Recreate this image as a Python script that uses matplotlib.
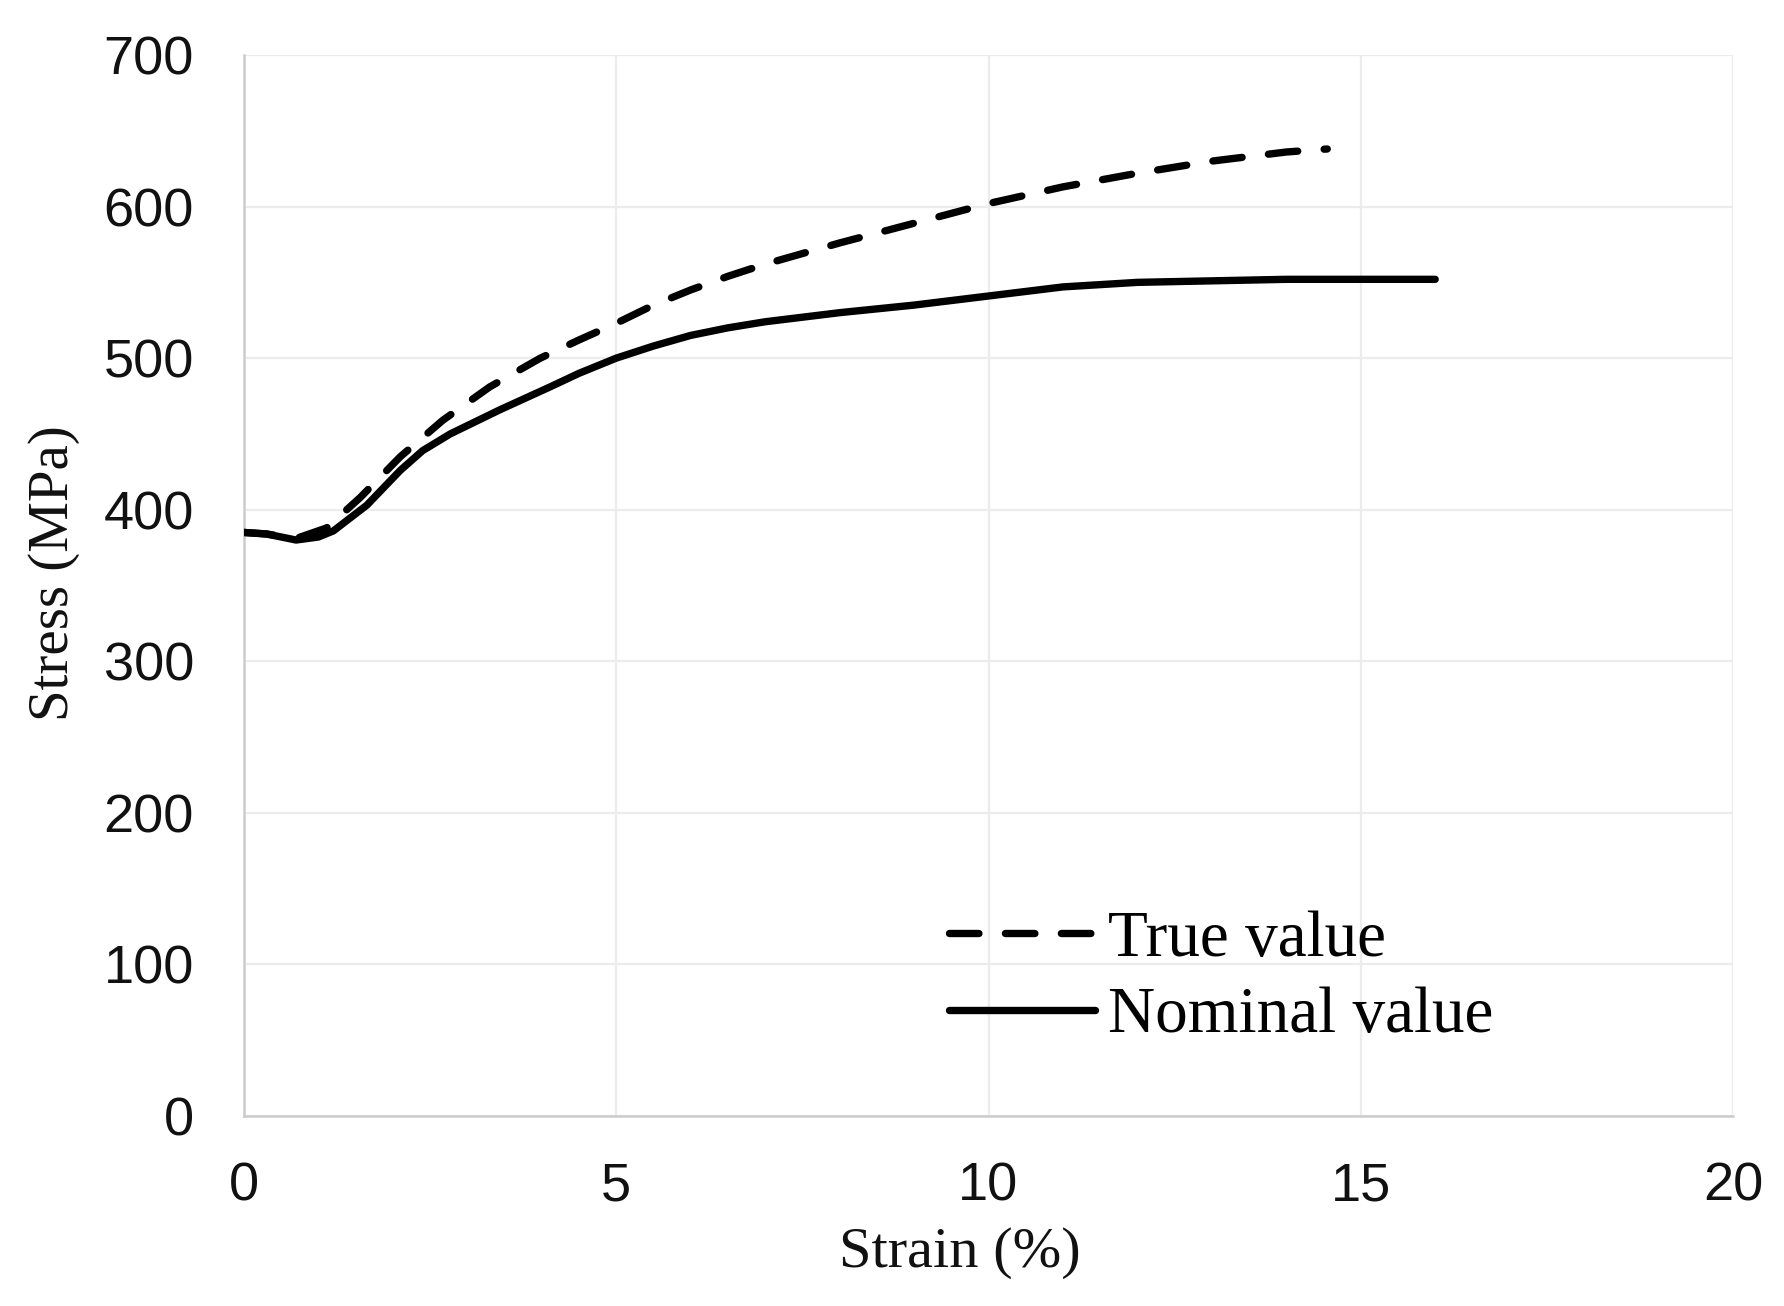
import matplotlib
matplotlib.use("Agg")
import matplotlib.pyplot as plt

# Data
strain_true = [0.0, 0.3, 0.7, 1.11, 1.56, 2.1, 2.67, 3.3, 3.98, 4.5, 5.0, 5.5, 6.0, 6.5, 7.0, 7.5, 8.0, 9.0, 10.0, 11.0, 12.0, 13.0, 14.0, 14.55]
stress_true = [385, 384, 381, 388, 408, 435, 459, 481, 500, 512, 523, 535, 545, 554, 562, 569, 576, 589, 602, 613, 622, 630, 636, 638]

strain_nom = [0.0, 0.3, 0.7, 1.0, 1.2, 1.65, 2.1, 2.4, 2.77, 3.44, 4.11, 4.5, 5.0, 5.5, 6.0, 6.5, 7.0, 8.0, 9.0, 10.0, 11.0, 12.0, 13.0, 14.0, 15.0, 16.0]
stress_nom = [385, 384, 380, 382, 386, 403, 426, 439, 450, 466, 481, 490, 500, 508, 515, 520, 524, 530, 535, 541, 547, 550, 551, 552, 552, 552]

x_ticks = [0, 5, 10, 15, 20]
y_ticks = [0, 100, 200, 300, 400, 500, 600, 700]
series_labels = ["True value", "Nominal value"]
x_label = "Strain (%)"
y_label = "Stress (MPa)"

W, H, DPI = 1784, 1306, 100
fig = plt.figure(figsize=(W / DPI, H / DPI), dpi=DPI)
ax = fig.add_axes([244 / W, 1 - 1116 / H, (1733 - 244) / W, (1116 - 55) / H])

lw = 5.3
ax.plot(strain_true, stress_true, color="black", lw=lw, linestyle=(0, (4.0, 3.6)),
        solid_capstyle="butt", dash_capstyle="round", label=series_labels[0], zorder=3)
ax.plot(strain_nom, stress_nom, color="black", lw=lw, linestyle="-",
        solid_capstyle="round", solid_joinstyle="round", label=series_labels[1], zorder=3)

ax.set_xlim(0, 20)
ax.set_ylim(0, 700)
ax.set_xticks(x_ticks)
ax.set_yticks(y_ticks)
ax.grid(True, color="#ececec", lw=1.6, zorder=0)
ax.set_axisbelow(True)
for s in ["top", "right"]:
    ax.spines[s].set_visible(False)
for s in ["left", "bottom"]:
    ax.spines[s].set_color("#cccccc")
    ax.spines[s].set_linewidth(1.8)

tick_font = dict(family=["Liberation Sans", "DejaVu Sans"], size=39)
ax.tick_params(axis="both", length=0, colors="#111111")
ax.tick_params(axis="y", pad=36)
ax.tick_params(axis="x", pad=33)
for lab in ax.get_xticklabels() + ax.get_yticklabels():
    lab.set_fontfamily(tick_font["family"])
    lab.set_fontsize(tick_font["size"])

serif = ["Liberation Serif", "DejaVu Serif"]
fig.text(54 / W, 1 - 573 / H, y_label, rotation=90, ha="center", va="center",
         fontsize=41, family=serif, color="#111111")
fig.text(960 / W, 1 - 1253 / H, x_label, ha="center", va="center",
         fontsize=42, family=serif, color="#111111")

leg = ax.legend(loc="upper left", bbox_to_anchor=(949 / W, 1 - 910 / H),
                bbox_transform=fig.transFigure, frameon=False, borderpad=0,
                borderaxespad=0, handlelength=2.23, handletextpad=0.2,
                labelspacing=0.26, prop=dict(family=serif, size=47))

fig.savefig("out.png", dpi=DPI, facecolor="white")
